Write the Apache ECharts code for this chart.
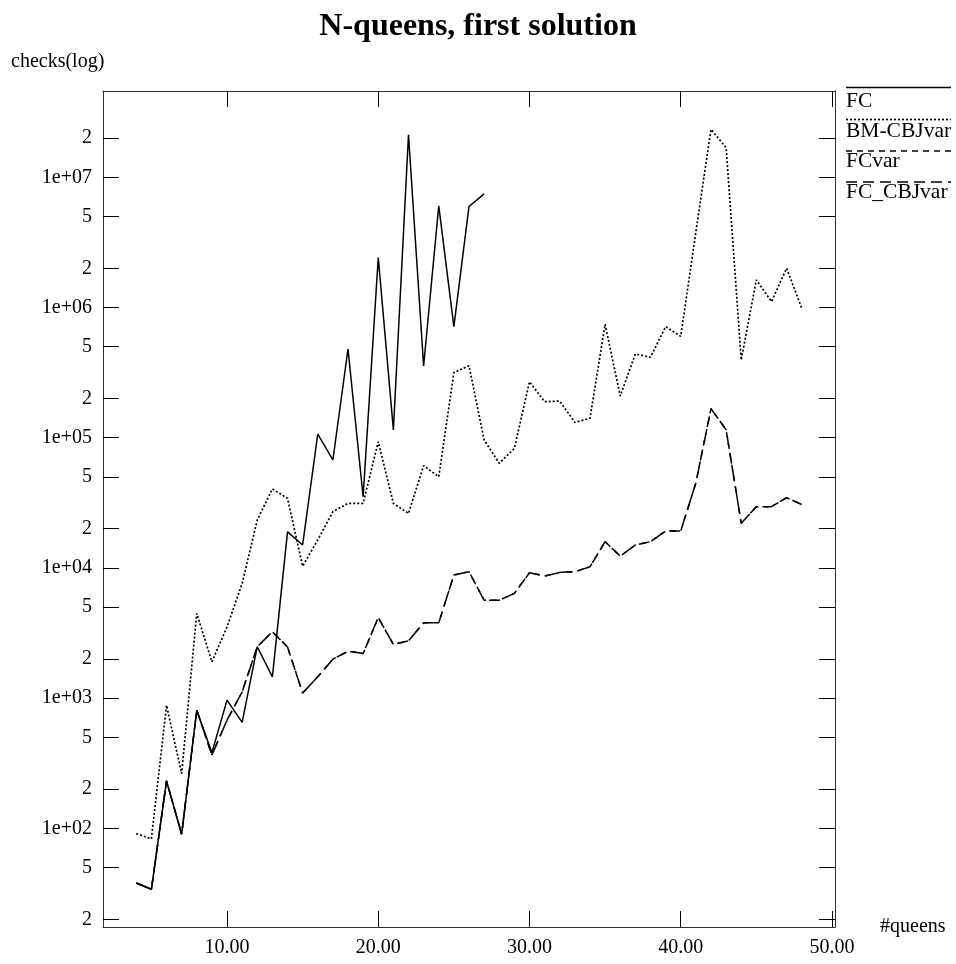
<!DOCTYPE html>
<html>
<head>
    <meta charset="utf-8">
    <title>N-queens, first solution</title>
    <script src="https://cdn.jsdelivr.net/npm/echarts@6/dist/echarts.min.js"></script>
</head>
<body style="margin:0">
    <div id="main" style="width: 956px;height:964px;"></div>
    <script type="text/javascript">
        // board sizes (x) for each curve
        var queensFC = [4, 5, 6, 7, 8, 9, 10, 11, 12, 13, 14, 15, 16, 17, 18, 19, 20, 21, 22, 23, 24, 25, 26, 27];
        var queensAll = [4, 5, 6, 7, 8, 9, 10, 11, 12, 13, 14, 15, 16, 17, 18, 19, 20, 21, 22, 23, 24, 25, 26,
            27, 28, 29, 30, 31, 32, 33, 34, 35, 36, 37, 38, 39, 40, 41, 42, 43, 44, 45, 46, 47, 48];

        // consistency checks
        var checksFC = [38, 34, 231, 90, 807, 380, 964, 650, 2480, 1455, 18900, 15000, 106700, 67400,
            480000, 35200, 2420000, 114700, 21200000, 355000, 6040000, 713000, 5970000, 7460000];
        var checksBMCBJvar = [91, 83, 881, 263, 4470, 1900, 3520, 7600, 23300, 40400, 34200, 10300, 16400,
            27000, 31300, 31300, 93100, 31300, 26200, 61000, 50100, 316000, 357000, 96000, 63600, 82800,
            269000, 189000, 191000, 131000, 141000, 743000, 209000, 440000, 415000, 713000, 600000,
            3800000, 23300000, 16900000, 395000, 1630000, 1110000, 2000000, 988000];
        var checksFCvar = [38, 34, 231, 90, 807, 365, 676, 1117, 2480, 3230, 2470, 1095, 1456, 1990, 2290,
            2200, 4160, 2580, 2750, 3790, 3790, 8810, 9340, 5650, 5650, 6370, 9170, 8650, 9230, 9340,
            10200, 15900, 12300, 15000, 15900, 19200, 19200, 45000, 167000, 115000, 22000, 29500, 29500,
            34600, 30700];
        var checksFCCBJvar = [38, 34, 231, 90, 807, 365, 676, 1117, 2480, 3230, 2470, 1095, 1456, 1990, 2290,
            2200, 4160, 2580, 2750, 3790, 3790, 8810, 9340, 5650, 5650, 6370, 9170, 8650, 9230, 9340,
            10200, 15900, 12300, 15000, 15900, 19200, 19200, 45000, 167000, 115000, 22000, 29500, 29500,
            34600, 30700];

        var seriesNames = ['FC', 'BM-CBJvar', 'FCvar', 'FC_CBJvar'];
        var xTicks = [10, 20, 30, 40, 50];
        var yTicks = [20, 50, 100, 200, 500, 1000, 2000, 5000, 10000, 20000, 50000, 100000, 200000, 500000,
            1000000, 2000000, 5000000, 10000000, 20000000];

        var serif = 'Liberation Serif';
        var dashes = ['solid', [2, 2], [6, 5], [11, 6]];

        function pairs(xs, ys) {
            return xs.map(function (x, i) { return [x, ys[i]]; });
        }

        function logLabel(v) {
            var e = Math.floor(Math.log10(v) + 1e-9);
            var m = Math.round(v / Math.pow(10, e));
            if (m === 1) {
                return '1e+' + (e < 10 ? '0' : '') + e;
            }
            return String(m);
        }

        var chart = echarts.init(document.getElementById('main'));

        var xBase = {
            type: 'value',
            min: 1.8,
            max: 50.2,
            splitLine: { show: false },
            axisLine: { lineStyle: { color: '#333', width: 1 } },
            axisTick: { inside: true, length: 16, customValues: xTicks, lineStyle: { color: '#000' } }
        };
        var yBase = {
            type: 'log',
            logBase: 10,
            min: 17.45,
            max: 4.6e7,
            splitLine: { show: false },
            axisLine: { show: true, lineStyle: { color: '#333', width: 1 } },
            axisTick: { inside: true, length: 16, customValues: yTicks, lineStyle: { color: '#000' } }
        };

        var series = [
            pairs(queensFC, checksFC),
            pairs(queensAll, checksBMCBJvar),
            pairs(queensAll, checksFCvar),
            pairs(queensAll, checksFCCBJvar)
        ].map(function (d, i) {
            return {
                name: seriesNames[i],
                type: 'line',
                data: d,
                symbol: 'none',
                xAxisIndex: 0,
                yAxisIndex: 0,
                lineStyle: { color: '#000', width: i === 1 ? 1.7 : 1.5, type: dashes[i] }
            };
        });

        // legend drawn as a line above each name
        var legendGraphics = [];
        var lineY = [87.5, 119.5, 151, 182];
        var textY = [101, 131, 161, 192];
        seriesNames.forEach(function (name, i) {
            legendGraphics.push({
                type: 'line',
                shape: { x1: 846, y1: lineY[i], x2: 951, y2: lineY[i] },
                style: { stroke: '#000', lineWidth: i === 1 ? 1.7 : 1.5, lineDash: i === 0 ? null : dashes[i] }
            });
            legendGraphics.push({
                type: 'text',
                x: 846,
                y: textY[i],
                style: { text: name, font: '21.5px "Liberation Serif"', fill: '#000', verticalAlign: 'middle' }
            });
        });
        legendGraphics.push({
            type: 'text',
            x: 11,
            y: 62,
            style: { text: 'checks(log)', font: '20px "Liberation Serif"', fill: '#000', verticalAlign: 'middle' }
        });

        var option = {
            animation: false,
            backgroundColor: '#fff',
            title: {
                text: 'N-queens, first solution',
                left: 'center',
                top: 6,
                textStyle: { fontFamily: serif, fontSize: 32, fontWeight: 'bold', color: '#000' }
            },
            grid: { left: 103, right: 121, top: 91, bottom: 37, outerBoundsMode: 'none' },
            xAxis: [
                echarts.util.merge({
                    position: 'bottom',
                    name: '#queens',
                    nameLocation: 'end',
                    nameGap: 45,
                    nameTextStyle: { fontFamily: serif, fontSize: 20, color: '#000', padding: [4, 0, 0, 0] },
                    axisLabel: {
                        customValues: xTicks,
                        margin: 11,
                        fontFamily: serif,
                        fontSize: 20,
                        color: '#000',
                        formatter: function (v) { return v.toFixed(2); }
                    }
                }, xBase, true),
                echarts.util.merge({ position: 'top', axisLabel: { show: false } }, xBase, true)
            ],
            yAxis: [
                echarts.util.merge({
                    position: 'left',
                    axisLabel: {
                        customValues: yTicks,
                        margin: 11,
                        fontFamily: serif,
                        fontSize: 20,
                        color: '#000',
                        formatter: logLabel
                    }
                }, yBase, true),
                echarts.util.merge({ position: 'right', axisLabel: { show: false } }, yBase, true)
            ],
            graphic: legendGraphics,
            series: series
        };

        chart.setOption(option);
    </script>
</body>
</html>
